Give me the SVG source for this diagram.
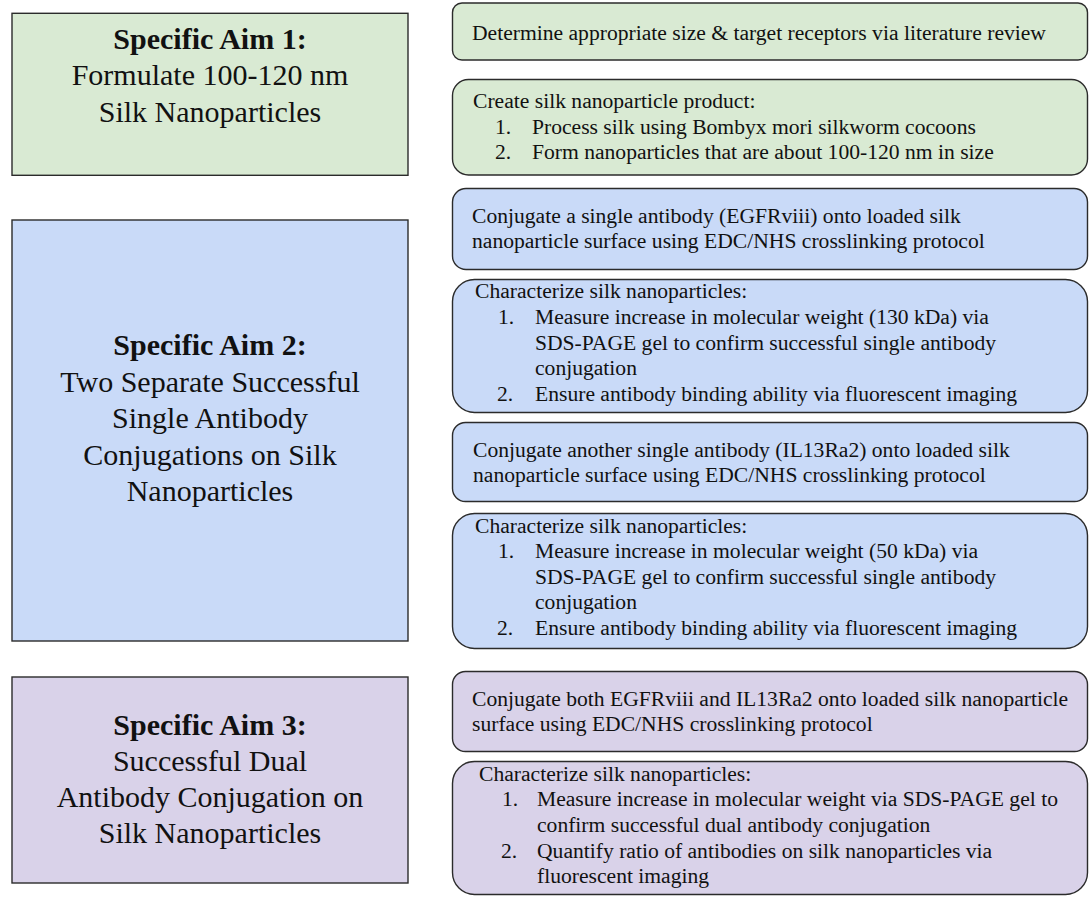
<svg xmlns="http://www.w3.org/2000/svg" width="1090" height="897" viewBox="0 0 1090 897">
<style>
.box{stroke:#2b2b2b;stroke-width:1.4}
.g{fill:#d9ead3}.b{fill:#c9daf8}.p{fill:#d9d2e9}
.aim{font-family:"Liberation Serif","Times New Roman",serif;font-size:30px;fill:#111;text-anchor:middle}
.aim .h{font-weight:bold}
.t{font-family:"Liberation Serif","Times New Roman",serif;font-size:21.6px;fill:#111}
</style>
<rect width="1090" height="897" fill="#fff"/>
<g id="aim1">
<rect class="box g" x="12" y="13.3" width="396" height="162"/>
<text class="aim"><tspan class="h" x="210" y="49.3">Specific Aim 1:</tspan><tspan x="210" y="85">Formulate 100-120 nm</tspan><tspan x="210" y="121.5">Silk Nanoparticles</tspan></text>
</g>
<g id="aim2">
<rect class="box b" x="12" y="220" width="396" height="421"/>
<text class="aim"><tspan class="h" x="210" y="355">Specific Aim 2:</tspan><tspan x="210" y="391.5">Two Separate Successful</tspan><tspan x="210" y="428">Single Antibody</tspan><tspan x="210" y="464.5">Conjugations on Silk</tspan><tspan x="210" y="501">Nanoparticles</tspan></text>
</g>
<g id="aim3">
<rect class="box p" x="12" y="677" width="396" height="206"/>
<text class="aim"><tspan class="h" x="210" y="735">Specific Aim 3:</tspan><tspan x="210" y="771">Successful Dual</tspan><tspan x="210" y="807">Antibody Conjugation on</tspan><tspan x="210" y="843">Silk Nanoparticles</tspan></text>
</g>
<g id="r1">
<rect class="box g" x="452.5" y="3" width="635" height="57" rx="9.5"/>
<text class="t" x="472" y="39.5">Determine appropriate size &amp; target receptors via literature review</text>
</g>
<g id="r2">
<rect class="box g" x="452.5" y="79.5" width="635" height="95.5" rx="16"/>
<text class="t"><tspan x="473" y="108.3">Create silk nanoparticle product:</tspan><tspan x="495" y="133.6">1.</tspan><tspan x="532" y="133.6">Process silk using Bombyx mori silkworm cocoons</tspan><tspan x="495" y="159">2.</tspan><tspan x="532" y="159">Form nanoparticles that are about 100-120 nm in size</tspan></text>
</g>
<g id="r3">
<rect class="box b" x="452.5" y="188.5" width="635" height="81" rx="13.5"/>
<text class="t"><tspan x="472" y="222.7">Conjugate a single antibody (EGFRviii) onto loaded silk</tspan><tspan x="472" y="248.3">nanoparticle surface using EDC/NHS crosslinking protocol</tspan></text>
</g>
<g id="r4">
<rect class="box b" x="452.5" y="279.5" width="635" height="133" rx="22"/>
<text class="t"><tspan x="475" y="298.3">Characterize silk nanoparticles:</tspan><tspan x="498" y="323.9">1.</tspan><tspan x="535" y="323.9">Measure increase in molecular weight (130 kDa) via</tspan><tspan x="535" y="349.5">SDS-PAGE gel to confirm successful single antibody</tspan><tspan x="535" y="375.1">conjugation</tspan><tspan x="497" y="400.7">2.</tspan><tspan x="535" y="400.7">Ensure antibody binding ability via fluorescent imaging</tspan></text>
</g>
<g id="r5">
<rect class="box b" x="452.5" y="422.5" width="635" height="79" rx="13"/>
<text class="t"><tspan x="473" y="456.7">Conjugate another single antibody (IL13Ra2) onto loaded silk</tspan><tspan x="473" y="482.3">nanoparticle surface using EDC/NHS crosslinking protocol</tspan></text>
</g>
<g id="r6">
<rect class="box b" x="452.5" y="513.5" width="635" height="135" rx="22"/>
<text class="t"><tspan x="475" y="532.5">Characterize silk nanoparticles:</tspan><tspan x="498" y="558.1">1.</tspan><tspan x="535" y="558.1">Measure increase in molecular weight (50 kDa) via</tspan><tspan x="535" y="583.7">SDS-PAGE gel to confirm successful single antibody</tspan><tspan x="535" y="609.3">conjugation</tspan><tspan x="497" y="634.9">2.</tspan><tspan x="535" y="634.9">Ensure antibody binding ability via fluorescent imaging</tspan></text>
</g>
<g id="r7">
<rect class="box p" x="452.5" y="671.5" width="635" height="80" rx="13"/>
<text class="t"><tspan x="472" y="705.7">Conjugate both EGFRviii and IL13Ra2 onto loaded silk nanoparticle</tspan><tspan x="472" y="731.3">surface using EDC/NHS crosslinking protocol</tspan></text>
</g>
<g id="r8">
<rect class="box p" x="452.5" y="761.5" width="635" height="133" rx="22"/>
<text class="t"><tspan x="479" y="780.7">Characterize silk nanoparticles:</tspan><tspan x="502" y="806.3">1.</tspan><tspan x="537" y="806.3">Measure increase in molecular weight via SDS-PAGE gel to</tspan><tspan x="537" y="831.9">confirm successful dual antibody conjugation</tspan><tspan x="501" y="857.5">2.</tspan><tspan x="537" y="857.5">Quantify ratio of antibodies on silk nanoparticles via</tspan><tspan x="537" y="883.1">fluorescent imaging</tspan></text>
</g>
<g id="connectors"></g>
</svg>
